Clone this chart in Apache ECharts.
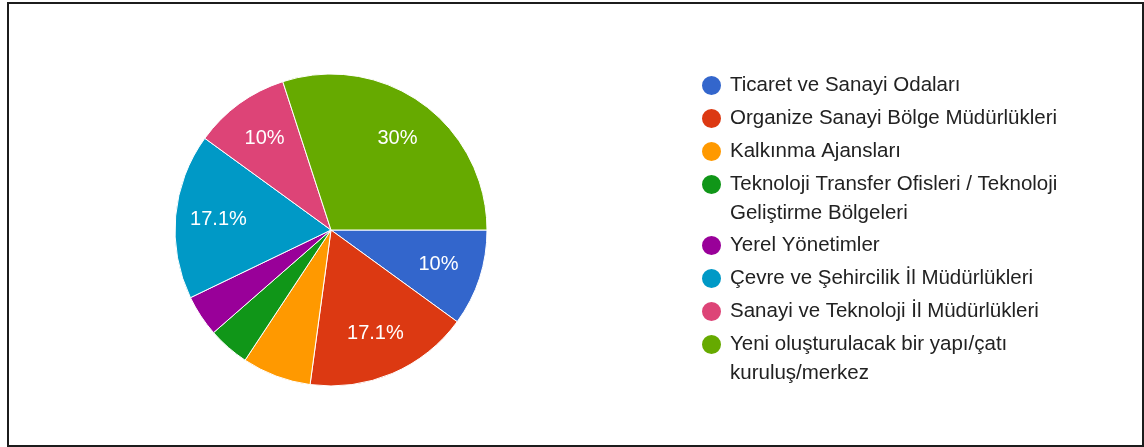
<!DOCTYPE html>
<html>
<head>
<meta charset="utf-8">
<script src="https://cdn.jsdelivr.net/npm/echarts@6/dist/echarts.min.js"></script>
<style>
  html, body { margin: 0; padding: 0; background: #fff; }
  #chart { position: absolute; left: 0; top: 0; width: 1144px; height: 447px; }
  .frame {
    position: absolute; left: 7px; top: 2px; width: 1133px; height: 441px;
    border: 2px solid #1c1c1c; pointer-events: none;
  }
</style>
</head>
<body>
<div id="chart"></div>
<div class="frame"></div>
<script>
const categories = [
  'Ticaret ve Sanayi Odaları',
  'Organize Sanayi Bölge Müdürlükleri',
  'Kalkınma Ajansları',
  'Teknoloji Transfer Ofisleri / Teknoloji Geliştirme Bölgeleri',
  'Yerel Yönetimler',
  'Çevre ve Şehircilik İl Müdürlükleri',
  'Sanayi ve Teknoloji İl Müdürlükleri',
  'Yeni oluşturulacak bir yapı/çatı kuruluş/merkez'
]
// legend text as it wraps in the original
const legendLabels = [
  'Ticaret ve Sanayi Odaları',
  'Organize Sanayi Bölge Müdürlükleri',
  'Kalkınma Ajansları',
  'Teknoloji Transfer Ofisleri / Teknoloji\nGeliştirme Bölgeleri',
  'Yerel Yönetimler',
  'Çevre ve Şehircilik İl Müdürlükleri',
  'Sanayi ve Teknoloji İl Müdürlükleri',
  'Yeni oluşturulacak bir yapı/çatı\nkuruluş/merkez'
]
const counts = [7, 12, 5, 3, 3, 12, 7, 21]
const colors = ['#3366cc', '#dc3912', '#ff9900', '#109618', '#990099', '#0099c6', '#dd4477', '#66aa00']

const total = counts.reduce((a, b) => a + b, 0)
const pct = (v) => Math.round(v / total * 1000) / 10
const fontFamily = '"Liberation Sans", Arial, sans-serif'
const LINE_H = 29

// first line keeps the dot beside it; the wrapped line takes no height of its own
// and is pushed down by its padding instead
const legendText = (name) => {
  const [first, ...rest] = legendLabels[categories.indexOf(name)].split('\n')
  return ['{a|' + first + '}', ...rest.map((t) => '{b|' + t + '}')].join('\n')
}

const chart = echarts.init(document.getElementById('chart'))
chart.setOption({
  animation: false,
  color: colors,
  legend: {
    orient: 'vertical',
    left: 695, top: 69, height: 370,
    icon: 'circle', itemWidth: 21, itemHeight: 21, itemGap: 10,
    textStyle: {
      color: '#222', fontSize: 20.5, fontFamily,
      padding: [0, 0, 0, 3],
      rich: {
        a: { color: '#222', fontSize: 20.5, fontFamily, lineHeight: LINE_H },
        b: { color: '#222', fontSize: 20.5, fontFamily, lineHeight: 0, padding: [LINE_H, 0, 0, 0] },
      },
    },
    formatter: legendText,
    data: categories,
  },
  series: [
    {
      type: 'pie',
      center: [331, 230], radius: 156,
      startAngle: 0, clockwise: true,
      itemStyle: { borderColor: '#fff', borderWidth: 1 },
      label: { show: false }, labelLine: { show: false },
      emphasis: { disabled: true },
      data: categories.map((name, i) => ({ name, value: counts[i] })),
    },
    {
      // label layer: places the percentages further out than the default mid-radius
      type: 'pie', silent: true,
      center: [331, 230], radius: [64, 156],
      startAngle: 0, clockwise: true,
      itemStyle: { color: 'rgba(0,0,0,0)', borderWidth: 0 },
      labelLine: { show: false },
      emphasis: { disabled: true },
      label: {
        position: 'inside', color: '#fff', fontSize: 20, fontFamily,
        formatter: (p) => pct(p.value) + '%',
      },
      data: categories.map((name, i) => ({
        name, value: counts[i],
        label: { show: pct(counts[i]) >= 10 },
      })),
    },
  ],
})
</script>
</body>
</html>
